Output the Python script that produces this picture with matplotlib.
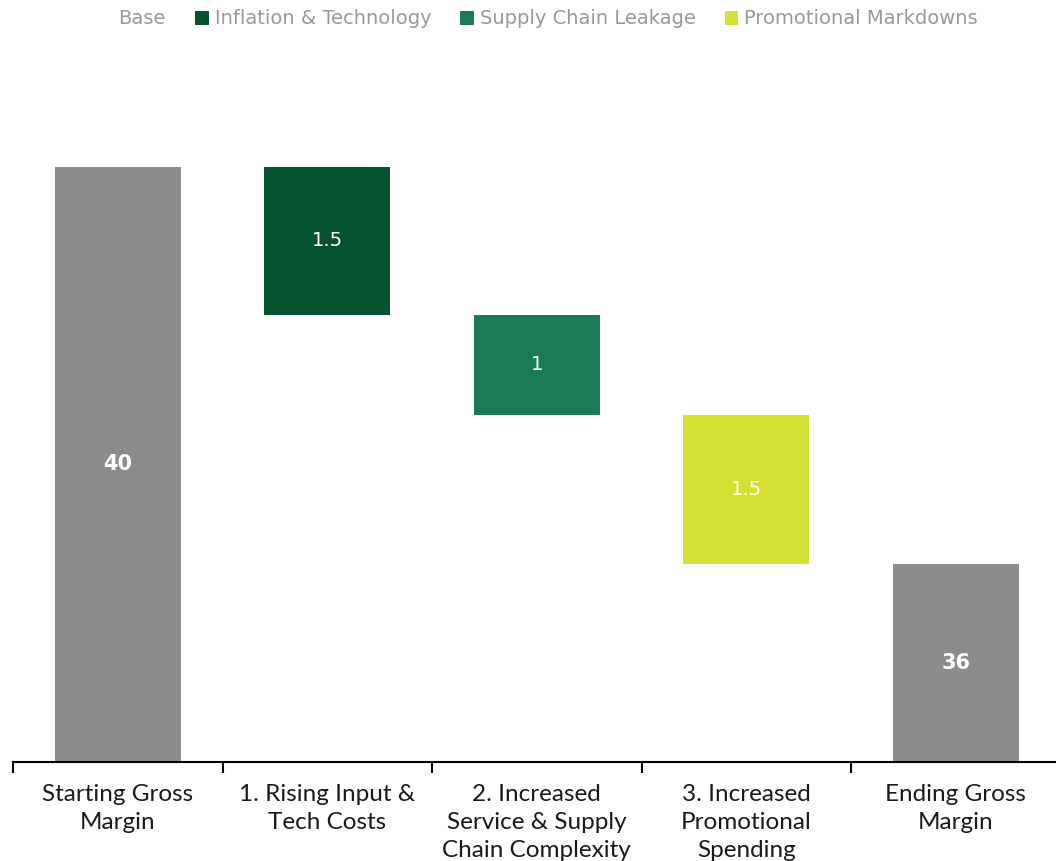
import matplotlib.pyplot as plt
from matplotlib.patches import Patch
from matplotlib.ticker import FixedLocator

categories = ["Starting Gross\nMargin", "1. Rising Input &\nTech Costs",
              "2. Increased\nService & Supply\nChain Complexity",
              "3. Increased\nPromotional\nSpending", "Ending Gross\nMargin"]
start_value = 40
changes = [1.5, 1, 1.5]
end_value = 36
series_names = ["Base", "Inflation & Technology", "Supply Chain Leakage", "Promotional Markdowns"]
colors = ["#8c8c8c", "#04522f", "#1a7a55", "#d4e032"]

# bar bottoms / heights for the waterfall
bottoms = [0]
heights = [start_value]
level = start_value
for c in changes:
    level -= c
    bottoms.append(level)
    heights.append(c)
bottoms.append(0)
heights.append(end_value)
bar_colors = [colors[0], colors[1], colors[2], colors[3], colors[0]]

fig = plt.figure(figsize=(10.56, 8.61), dpi=100)
W, H = 1056, 861
ax = fig.add_axes([13 / W, (H - 762) / H, 1047.5 / W, 7 * 99.25 / H])

x = range(len(categories))
ax.bar(x, heights, bottom=bottoms, width=0.6, color=bar_colors)
ax.set_ylim(34, 41)
ax.set_xlim(-0.5, len(categories) - 0.5)

for i, (b, h) in enumerate(zip(bottoms, heights)):
    if i in (0, len(categories) - 1):
        y = (34 + b + h) / 2
        ax.text(i, y, f"{h:g}", ha="center", va="center", color="white",
                fontsize=15, fontweight="bold", family="DejaVu Sans")
    else:
        ax.text(i, b + h / 2, f"{h:g}", ha="center", va="center", color="white",
                fontsize=14, family="DejaVu Sans")

for s in ["top", "right", "left"]:
    ax.spines[s].set_visible(False)
ax.spines["bottom"].set_linewidth(1.5)
ax.set_yticks([])
ax.set_xticks(list(x))
ax.set_xticklabels(categories, fontsize=17.5, family="Lato", color="#1a1a1a", linespacing=1.4)
ax.tick_params(axis="x", which="major", length=0, pad=16)
ax.xaxis.set_minor_locator(FixedLocator([i - 0.5 for i in range(len(categories) + 1)]))
ax.tick_params(axis="x", which="minor", length=8, width=1.5, direction="out")

handles = [Patch(facecolor="white", edgecolor="none")] + [Patch(facecolor=c) for c in colors[1:]]
fig.legend(handles, series_names, loc="center", bbox_to_anchor=(0.510, 1 - 19 / H), ncol=4,
           frameon=False, handlelength=0.7, handleheight=0.7, handletextpad=0.3,
           columnspacing=1.5, prop={"family": "DejaVu Sans", "size": 14}, labelcolor="#999999")

fig.savefig("out.png", dpi=100)
